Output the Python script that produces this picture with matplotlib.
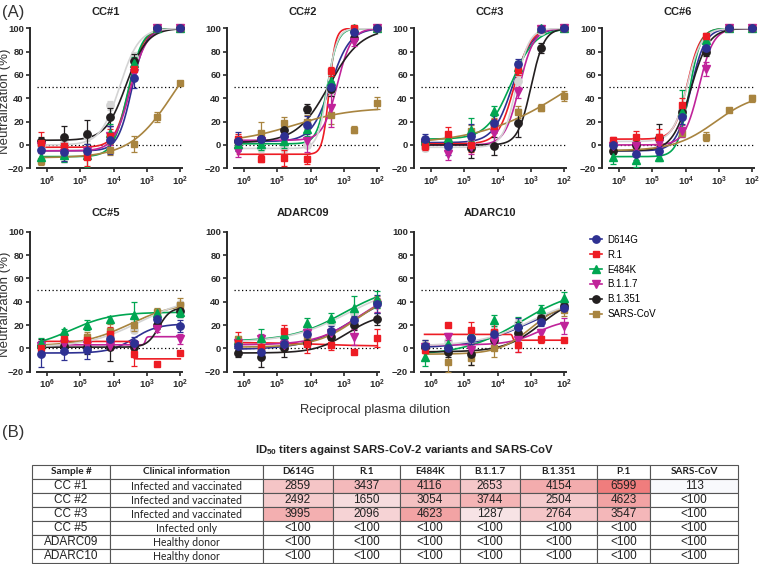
import matplotlib.pyplot as plt
from matplotlib.lines import Line2D
import numpy as np

plt.rcParams['font.family'] = ['Liberation Sans', 'DejaVu Sans']
plt.rcParams['mathtext.fontset'] = 'custom'
plt.rcParams['mathtext.rm'] = 'Liberation Sans'
plt.rcParams['mathtext.bf'] = 'Liberation Sans:bold'

# ---- data ----
dilutions = [1562500, 312500, 62500, 12500, 2500, 500, 100]
variants = ['D614G', 'R.1', 'E484K', 'B.1.1.7', 'B.1.351', 'SARS-CoV', 'P.1']
colors = ['#2e3192', '#ed1c24', '#00a651', '#c0239a', '#231f20', '#a8843f', '#d4d4d4']
markers = ['o', 's', '^', 'v', 'o', 's', 'o']

# rows follow `variants`; fits are [bottom, top, log10 ID50, hill]
cc1_y = [[-4, -6, -5, 4, 57, 100, 100], [2, -1, -10, 8, 65, 100, 100],
         [-10, -9, -9, 10, 70, 100, 100], [-1, -7, -5, 8, 62, 100, 100],
         [3, 7, 9, 24, 72, 100, 100], [-14, -9, -8, -4, 1, 24, 53],
         [0, 2, 8, 34, 75, 100, 100]]
cc1_err = [[8, 8, 6, 12, 8, 1, 1], [9, 6, 8, 6, 6, 1, 1], [5, 6, 10, 8, 5, 1, 1],
           [5, 8, 6, 8, 6, 1, 1], [4, 9, 12, 8, 6, 1, 1], [3, 5, 4, 5, 7, 4, 2],
           [3, 4, 5, 4, 5, 1, 1]]
cc1_fit = [[-5, 100, 3.46, 2.1], [-2, 100, 3.53, 2.0], [-10, 100, 3.58, 2.0],
           [-5, 100, 3.50, 1.8], [4, 100, 3.62, 1.4], [-11, 100, 2.2, 0.67],
           [0, 100, 3.82, 1.5]]

cc2_y = [[3, 5, 8, 17, 50, 97, 100], [5, -12, -11, -12, 63, 100, 100],
         [1, 1, 3, 14, 55, 100, 100], [-5, 3, 4, 3, 32, 88, 100],
         [3, 5, 13, 31, 48, 92, 100], [3, 10, 19, 20, 26, 13, 36],
         [-2, -3, -3, 0, 47, 100, 100]]
cc2_err = [[8, 6, 5, 8, 5, 2, 1], [4, 3, 7, 4, 4, 1, 1], [5, 5, 6, 6, 6, 1, 1],
           [5, 4, 4, 9, 17, 3, 1], [3, 6, 5, 4, 6, 3, 1], [5, 10, 5, 6, 8, 3, 5],
           [3, 3, 3, 3, 4, 1, 1]]
cc2_fit = [[3, 100, 3.40, 1.5], [-8, 100, 3.45, 4.5], [1, 100, 3.50, 2.8],
           [4, 100, 3.20, 2.0], [2, 100, 3.45, 0.9], [2, 32, 4.5, 0.5],
           [-3, 100, 3.50, 3.0]]

cc3_y = [[5, -1, 8, 19, 69, 99, 100], [-1, 9, 0, 16, 64, 99, 100],
         [4, 6, 13, 29, 67, 100, 100], [2, -8, -2, 10, 45, 99, 100],
         [3, 1, -3, -1, 19, 83, 100], [1, 5, 12, 18, 28, 32, 42],
         [-3, -3, 2, 14, 55, 98, 100]]
cc3_err = [[4, 8, 10, 8, 5, 1, 1], [3, 6, 6, 6, 4, 1, 1], [3, 4, 10, 4, 5, 1, 1],
           [3, 5, 6, 9, 5, 1, 1], [3, 3, 8, 8, 12, 4, 1], [3, 5, 5, 5, 5, 3, 4],
           [2, 3, 3, 3, 4, 1, 1]]
cc3_fit = [[2, 100, 3.55, 1.5], [1, 100, 3.50, 1.8], [5, 100, 3.60, 1.2],
           [0, 100, 3.35, 2.0], [0, 100, 3.00, 2.2], [0, 100, 1.75, 0.32],
           [-2, 100, 3.45, 2.2]]

cc6_y = [[0, -8, -5, 24, 83, 100, 100], [4, 7, 7, 34, 93, 100, 100],
         [-10, -13, -10, 28, 90, 100, 100], [-1, -1, 2, 12, 65, 100, 100],
         [-5, 0, 6, 28, 80, 100, 100], [-3, 0, 5, 10, 7, 30, 40],
         [2, 3, 6, 30, 88, 100, 100]]
cc6_err = [[3, 5, 4, 6, 4, 1, 1], [3, 5, 7, 6, 3, 1, 1], [6, 6, 4, 19, 4, 1, 1],
           [3, 3, 4, 5, 6, 1, 1], [3, 4, 12, 5, 4, 1, 1], [4, 3, 4, 3, 4, 2, 3],
           [2, 3, 3, 4, 3, 1, 1]]
cc6_fit = [[-5, 100, 3.85, 2.0], [5, 100, 3.95, 2.2], [-10, 100, 3.90, 2.5],
           [0, 100, 3.60, 2.0], [-5, 100, 3.85, 1.6], [-5, 45, 3.1, 0.7],
           [3, 100, 3.95, 2.0]]

cc5_y = [[-5, -2, -1, 8, 5, 25, 19], [0, 8, 7, 12, -5, -13, -4],
         [5, 15, 20, 25, 29, 30, 31], [2, 4, 3, 2, 3, 17, 8],
         [2, 2, 1, 1, 1, 20, 32], [2, 6, 10, 15, 20, 31, 37],
         [3, 4, 6, 10, 16, 28, 38]]
cc5_err = [[11, 8, 8, 6, 5, 4, 5], [4, 4, 5, 6, 10, 1, 1], [4, 2, 4, 3, 11, 4, 4],
           [4, 3, 4, 3, 4, 3, 4], [6, 5, 6, 12, 5, 3, 5], [4, 4, 4, 6, 5, 4, 6],
           [3, 3, 3, 3, 3, 3, 3]]
cc5_fit = [[-4, 21, 3.4, 1.2], [6, -9, 3.45, 20], [0, 31, 5.3, 0.7],
           [3, 10, 3.05, 20], [1, 35, 2.65, 2.5], [2, 40, 3.5, 0.6],
           [1, 45, 3.2, 0.55]]

a09_y = [[2, -3, 4, 12, 15, 24, 38], [5, 1, 15, 4, 3, -3, 9],
         [7, 9, 12, 22, 26, 35, 42], [5, 8, 3, 13, 13, 10, 37],
         [-4, -7, 0, 5, 10, 20, 25], [8, 1, 3, 10, 12, 24, 40],
         [6, 6, 8, 16, 22, 30, 40]]
a09_err = [[4, 5, 4, 5, 4, 4, 8], [9, 6, 5, 8, 4, 1, 8], [3, 8, 4, 4, 4, 10, 7],
           [5, 4, 4, 5, 4, 7, 6], [3, 9, 7, 3, 3, 4, 5], [3, 5, 5, 3, 3, 3, 5],
           [3, 3, 3, 3, 3, 3, 3]]
a09_fit = [[-1, 50, 2.7, 0.6], [5, 2, 3.8, 0.6], [6, 55, 3.0, 0.55],
           [3, 50, 2.6, 0.7], [-4, 30, 2.9, 0.9], [1, 50, 2.6, 0.7],
           [5, 55, 2.9, 0.5]]

a10_y = [[2, 0, 9, 12, 18, 23, 35], [-1, 20, 16, 14, 3, 8, 7],
         [-7, 4, 12, 24, 21, 34, 43], [1, 10, -1, 6, 7, 13, 19],
         [1, -3, -5, 7, 13, 26, 36], [2, -12, -8, 0, 10, 25, 33],
         [3, 6, 10, 15, 22, 28, 38]]
a10_err = [[5, 4, 5, 4, 8, 4, 4], [3, 1, 7, 7, 6, 3, 1], [8, 8, 4, 5, 6, 3, 5],
           [3, 3, 5, 4, 10, 4, 7], [3, 4, 9, 4, 10, 3, 4], [5, 8, 6, 7, 5, 5, 5],
           [3, 3, 3, 3, 3, 3, 3]]
a10_fit = [[0, 45, 3.0, 0.5], [12, 7, 3.55, 30], [-6, 52, 3.3, 0.5],
           [3, 25, 2.8, 1.0], [-3, 45, 2.7, 0.8], [-5, 40, 3.0, 0.9],
           [2, 45, 3.0, 0.55]]

# table (B)
samples = ['CC #1', 'CC #2', 'CC #3', 'CC #5', 'ADARC09', 'ADARC10']
clinical = ['Infected and vaccinated', 'Infected and vaccinated',
            'Infected and vaccinated', 'Infected only', 'Healthy donor', 'Healthy donor']
table_cols = ['D614G', 'R.1', 'E484K', 'B.1.1.7', 'B.1.351', 'P.1', 'SARS-CoV']
id50_cc1 = [2859, 3437, 4116, 2653, 4154, 6599, 113]
id50_cc2 = [2492, 1650, 3054, 3744, 2504, 4623, None]
id50_cc3 = [3995, 2096, 4623, 1287, 2764, 3547, None]
id50_neg = [None] * 7

# ---- layout ----
W, H = 760, 564
fig = plt.figure(figsize=(W / 100, H / 100), dpi=100)

col_left = [37, 234, 421, 609]
row_top = [28.3, 231.7]
AX_W, AX_H = 145, 140

panels = [
    ('CC#1', cc1_y, cc1_err, cc1_fit, 0, 0),
    ('CC#2', cc2_y, cc2_err, cc2_fit, 1, 0),
    ('CC#3', cc3_y, cc3_err, cc3_fit, 2, 0),
    ('CC#6', cc6_y, cc6_err, cc6_fit, 3, 0),
    ('CC#5', cc5_y, cc5_err, cc5_fit, 0, 1),
    ('ADARC09', a09_y, a09_err, a09_fit, 1, 1),
    ('ADARC10', a10_y, a10_err, a10_fit, 2, 1),
]


def fit_curve(p, x):
    bottom, top, u50, hill = p
    return bottom + (top - bottom) / (1 + 10 ** ((np.log10(x) - u50) * hill))


xs = np.geomspace(dilutions[0], dilutions[-1], 500)
tick_vals = [1e6, 1e5, 1e4, 1e3, 1e2]
tick_txt = [r'$\mathbf{10^{6}}$', r'$\mathbf{10^{5}}$', r'$\mathbf{10^{4}}$',
            r'$\mathbf{10^{3}}$', r'$\mathbf{10^{2}}$']
axis_col = '#2a2a2a'

for name, ys, errs, fits, c, r in panels:
    left, top = col_left[c], row_top[r]
    ax = fig.add_axes([left / W, 1 - (top + AX_H) / H, AX_W / W, AX_H / H])
    ax.set_xscale('log')
    ax.set_xlim(2.0e6, 89)
    ax.set_ylim(-20, 100)
    ax.axhline(50, color='k', lw=0.9, ls=(0, (1, 2)), zorder=1)
    ax.axhline(0, color='k', lw=0.9, ls=(0, (1, 2)), zorder=1)
    for i in [6, 5, 4, 3, 2, 1, 0]:
        ax.plot(xs, fit_curve(fits[i], xs), color=colors[i], lw=1.2, zorder=2 + i * 0.01)
        ms = 4.8 if markers[i] == 's' else 5.3
        ax.errorbar(dilutions, ys[i], yerr=errs[i], fmt=markers[i], color=colors[i],
                    ms=ms, capsize=2, elinewidth=0.9, capthick=0.9, clip_on=False,
                    zorder=3 if i == 6 else 4 - i * 0.01)
    for s in ['top', 'right']:
        ax.spines[s].set_visible(False)
    ax.spines['left'].set_position(('outward', 5))
    for s in ['left', 'bottom']:
        ax.spines[s].set_linewidth(1.4)
        ax.spines[s].set_color(axis_col)
    ax.set_xticks(tick_vals)
    ax.set_xticklabels(tick_txt)
    ax.xaxis.set_minor_locator(plt.NullLocator())
    ax.set_yticks(range(-20, 101, 20))
    ax.tick_params(axis='both', colors=axis_col, width=1.2, length=3, labelsize=6.8, pad=1.5)
    for lab in ax.get_yticklabels():
        lab.set_fontweight('bold')
    fig.text((left + AX_W / 2 - 4) / W, 1 - (top - 16 if r == 0 else top - 18.5) / H, name,
             ha='center', va='center', fontsize=8, fontweight='bold', color='#222222')
    if c == 0:
        fig.text(5 / W, 1 - (top + AX_H / 2 + 3) / H, 'Neutralization (%)', rotation=90,
                 ha='center', va='center', fontsize=9.5, color='#333333')

fig.text(375 / W, 1 - 410 / H, 'Reciprocal plasma dilution', ha='center', va='center',
         fontsize=9.3, color='#333333')
fig.text(2 / W, 1 - 12 / H, '(A)', ha='left', va='center', fontsize=12, color='#333333')
fig.text(2 / W, 1 - 432 / H, '(B)', ha='left', va='center', fontsize=12, color='#333333')

handles = [Line2D([0], [0], color=colors[i], marker=markers[i], lw=1.2,
                  ms=4.8 if markers[i] == 's' else 5.3) for i in range(6)]
fig.legend(handles, variants[:6], loc='upper left', bbox_to_anchor=(586 / W, 1 - 231 / H),
           frameon=False, fontsize=7, handlelength=1.2, handletextpad=0.6,
           labelspacing=0.5, borderaxespad=0)

# ---- table ----
fig.text(405 / W, 1 - 450 / H,
         r'ID$_{\mathbf{50}}$ titers against SARS-CoV-2 variants and SARS-CoV',
         ha='center', va='center', fontsize=8.2, fontweight='bold', color='#222222')


def heat(v):
    if v is None:
        return 'white'
    t = (v - 113) / (6599 - 113)
    lo = np.array([248, 249, 252]) / 255
    hi = np.array([240, 125, 125]) / 255
    return tuple(lo + (hi - lo) * t)


id50_rows = [id50_cc1, id50_cc2, id50_cc3, id50_neg, id50_neg, id50_neg]
header = ['Sample #', 'Clinical information'] + table_cols
cell_text = [header]
cell_cols = [['white'] * 9]
for s, ci, vals in zip(samples, clinical, id50_rows):
    cell_text.append([s, ci] + ['<100' if v is None else str(v) for v in vals])
    cell_cols.append(['white', 'white'] + [heat(v) for v in vals])

col_px = [78, 153, 70, 67, 60, 60, 77, 53, 88]
tax = fig.add_axes([32 / W, 1 - 563 / H, 706 / W, 98 / H])
tax.axis('off')
tbl = tax.table(cellText=cell_text, cellColours=cell_cols, cellLoc='center',
                colWidths=[w / sum(col_px) for w in col_px], bbox=[0, 0, 1, 1])
tbl.auto_set_font_size(False)
for (ri, ci), cell in tbl.get_celld().items():
    cell.set_edgecolor('#555555')
    cell.set_linewidth(0.8)
    txt = cell.get_text()
    txt.set_color('#222222')
    if ri == 0:
        txt.set_fontfamily('Lato')
        txt.set_fontweight('bold')
        txt.set_fontsize(7.2)
    elif ci == 1:
        txt.set_fontfamily('Lato')
        txt.set_fontsize(7.6)
    else:
        txt.set_fontsize(8.5)

fig.savefig('out.png', dpi=100)
